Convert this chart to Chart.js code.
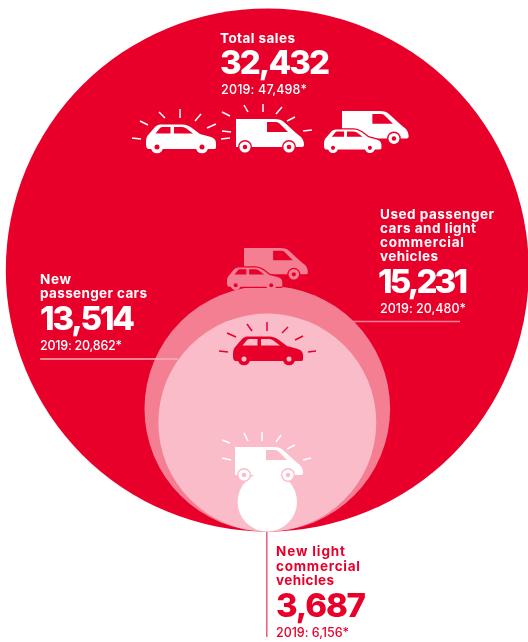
<!DOCTYPE html>
<html>
<head>
<meta charset="utf-8">
<title>Vehicle sales</title>
<script src="https://cdn.jsdelivr.net/npm/chart.js@4/dist/chart.umd.min.js"></script>
<style>
  html, body { margin: 0; padding: 0; background: #fff; }
  canvas { display: block; position: absolute; left: 0; top: 0; }
</style>
</head>
<body>
<canvas id="chart" width="528" height="642"></canvas>
<script>
// Sales figures, largest bubble first so the smaller ones paint on top.
const categories = ['Total sales', 'Used passenger cars and light commercial vehicles', 'New passenger cars', 'New light commercial vehicles'];
const sales = [32432, 15231, 13514, 3687];
const sales2019 = [47498, 20480, 20862, 6156];
const bubbleColors = ['#e8002b', '#f47f93', '#fbbcc9', '#ffffff'];

const RED = '#e8002b', ROSE = '#f47f93', BLUSH = '#fbbcc9', WHITE = '#ffffff';

// Bubble diameter is proportional to the value; all bubbles share a baseline.
const PX_PER_UNIT = 261.5 / sales[0];
const AXIS_X = 267.3, BASE_Y = 531.5, W = 528, H = 642;

const fmt = n => n.toLocaleString('en-US');
const FAMILY = 'Inter, "Liberation Sans", sans-serif';

// Text blocks: index into the data arrays, colour, heading lines and figure positions.
const blocks = [
  { i: 0, color: WHITE, head: [['Total sales', 220, 43, 75]],
    num: [220, 74, 110], prev: [221, 94, 86] },
  { i: 1, color: WHITE, head: [['Used passenger', 380, 219, 114], ['cars and light', 380, 233, 96], ['commercial', 380, 247, 84], ['vehicles', 380, 261, 58]],
    num: [378, 293, 90], prev: [380, 313, 86] },
  { i: 2, color: WHITE, head: [['New', 40, 284, 31], ['passenger cars', 40, 298, 107]],
    num: [40, 330, 95], prev: [40, 350, 82] },
  { i: 3, color: RED, head: [['New light', 276, 556, 69], ['commercial', 276, 571, 84], ['vehicles', 276, 585, 58]],
    num: [276, 617, 90], prev: [276, 637, 73] }
];

// Leader lines joining a text block to its bubble.
const leaders = [
  { from: [352, 321.5], to: [460, 321.5], color: ROSE },
  { from: [40, 359], to: [178, 359], color: '#f9aebd' },
  { from: [266.8, 532], to: [266.8, 637], color: '#ee5a76' }
];

const carBody = new Path2D('M2 25 C0 24 0 22 0 18 C0 14 1 12 3 10 L9 3 C11 1 13 0.5 16 0.5 L36 0.5 C40 0.5 43 2 46 4 L54 10 L65 13 C68 14 70 16 70 19 L70 23 C70 25 69 25 67 25 Z');
const carWindows = new Path2D('M9.5 9.5 L14 4 C15 3 16 3 17 3 L24.5 3 L24.5 9.5 Z M28 3 L36 3 C38 3 40 4 41 5 L47 9.5 L28 9.5 Z');
const vanBody = new Path2D('M0 0 L38 0 C43 0 46 1 48 3 L60 14 L65 18 C67 20 68 23 68 26 C68 28 66 28 65 28 L0 28 Z');
const vanWindow = new Path2D('M31 3 L40 3 C42 3 43 4 44 5 L52 13 L31 13 Z');

function disc(ctx, x, y, r, color) {
  ctx.beginPath();
  ctx.arc(x, y, r, 0, Math.PI * 2);
  ctx.fillStyle = color;
  ctx.fill();
}

function car(ctx, x, y, s, fg, glass, bg, halo) {
  ctx.save();
  ctx.translate(x, y);
  ctx.scale(s, s);
  if (halo) {
    ctx.strokeStyle = bg;
    ctx.lineWidth = halo / s;
    ctx.lineJoin = 'round';
    ctx.stroke(carBody);
  }
  ctx.fillStyle = fg;
  ctx.fill(carBody);
  ctx.fillStyle = glass;
  ctx.fill(carWindows);
  [11, 56].forEach(cx => {
    disc(ctx, cx, 23, 6.3, fg);
    disc(ctx, cx, 23, 2.5, bg);
  });
  ctx.restore();
}

function van(ctx, x, y, s, fg, glass, bg) {
  ctx.save();
  ctx.translate(x, y);
  ctx.scale(s, s);
  ctx.fillStyle = fg;
  ctx.fill(vanBody);
  ctx.fillStyle = glass;
  ctx.fill(vanWindow);
  [9, 53].forEach(cx => {
    disc(ctx, cx, 28, 7, bg);
    disc(ctx, cx, 28, 5.6, fg);
    disc(ctx, cx, 28, 2.3, bg);
  });
  ctx.restore();
}

function rays(ctx, list, color) {
  ctx.strokeStyle = color;
  ctx.lineWidth = 1.5;
  ctx.lineCap = 'butt';
  list.forEach(([a, b, c, d]) => {
    ctx.beginPath();
    ctx.moveTo(a, b);
    ctx.lineTo(c, d);
    ctx.stroke();
  });
}

// Writes a string squeezed or stretched to a target width with letter spacing.
function fitText(ctx, text, x, y, width, font, color) {
  ctx.font = font;
  ctx.letterSpacing = '0px';
  const natural = ctx.measureText(text).width;
  ctx.letterSpacing = ((width - natural) / Math.max(1, text.length - 1)).toFixed(3) + 'px';
  ctx.fillStyle = color;
  ctx.textAlign = 'left';
  ctx.textBaseline = 'alphabetic';
  ctx.fillText(text, x, y);
  ctx.letterSpacing = '0px';
}

const decorations = {
  id: 'decorations',
  afterDatasetsDraw(chart) {
    const ctx = chart.ctx;
    ctx.save();

    leaders.forEach(l => {
      ctx.strokeStyle = l.color;
      ctx.lineWidth = 1.5;
      ctx.beginPath();
      ctx.moveTo(l.from[0], l.from[1]);
      ctx.lineTo(l.to[0], l.to[1]);
      ctx.stroke();
    });

    // Icons in the top row
    rays(ctx, [[132, 138, 141, 139], [140, 121, 148, 125], [159, 112, 165, 118], [180, 109, 180, 118], [201, 114, 195, 121], [216, 124, 207, 128]], WHITE);
    car(ctx, 146, 124, 1, WHITE, RED, RED);
    rays(ctx, [[222, 112, 230, 116], [244, 105, 248, 112], [263, 104, 263, 112], [282, 107, 276, 114], [295, 117, 287, 121], [312, 130, 303, 131], [222, 131, 231, 132], [221, 139, 230, 138]], WHITE);
    van(ctx, 236, 119, 1, WHITE, RED, RED);
    van(ctx, 342, 111, 0.98, WHITE, RED, RED);
    car(ctx, 324, 129, 0.82, WHITE, RED, RED, 2.5);

    // Icons sitting on the nested bubbles
    van(ctx, 244, 248, 0.94, ROSE, RED, RED);
    car(ctx, 227, 267, 0.79, ROSE, RED, RED, 2.5);
    rays(ctx, [[219, 351, 228, 352], [227, 333, 236, 337], [247, 324, 252, 331], [267, 322, 267, 331], [288, 327, 282, 333], [303, 336, 295, 340], [316, 351, 308, 352]], RED);
    car(ctx, 233, 336, 1, RED, BLUSH, BLUSH);
    rays(ctx, [[222, 440, 230, 443], [244, 433, 248, 441], [262, 432, 262, 441], [281, 435, 276, 442], [295, 445, 287, 449], [222, 458, 231, 460], [311, 458, 303, 460]], WHITE);
    van(ctx, 235, 447, 1, WHITE, BLUSH, BLUSH);

    // Text blocks
    blocks.forEach(b => {
      b.head.forEach(([t, x, y, w]) => fitText(ctx, t, x, y, w, '700 13.5px ' + FAMILY, b.color));
      fitText(ctx, fmt(sales[b.i]), b.num[0], b.num[1], b.num[2], '800 33px ' + FAMILY, b.color);
      fitText(ctx, '2019: ' + fmt(sales2019[b.i]) + '*', b.prev[0], b.prev[1], b.prev[2], '500 12.5px ' + FAMILY, b.color);
    });
    ctx.restore();
  }
};

new Chart(document.getElementById('chart'), {
  type: 'bubble',
  data: {
    labels: categories,
    datasets: [{
      label: 'Sales',
      data: sales.map(v => ({ x: 0, y: v, r: v * PX_PER_UNIT })),
      backgroundColor: bubbleColors,
      borderWidth: 0,
      radius: 0,
      hoverRadius: 0,
      clip: false
    }]
  },
  options: {
    responsive: false,
    animation: false,
    // The axes fill the whole canvas; bubbles must not shrink the plot area.
    layout: { padding: 0, autoPadding: false },
    events: [],
    scales: {
      x: { display: false, min: -AXIS_X / PX_PER_UNIT, max: (W - AXIS_X) / PX_PER_UNIT },
      y: { display: false, min: -(H - BASE_Y) / PX_PER_UNIT, max: BASE_Y / PX_PER_UNIT }
    },
    plugins: { legend: { display: false }, tooltip: { enabled: false } }
  },
  plugins: [decorations]
});
</script>
</body>
</html>
